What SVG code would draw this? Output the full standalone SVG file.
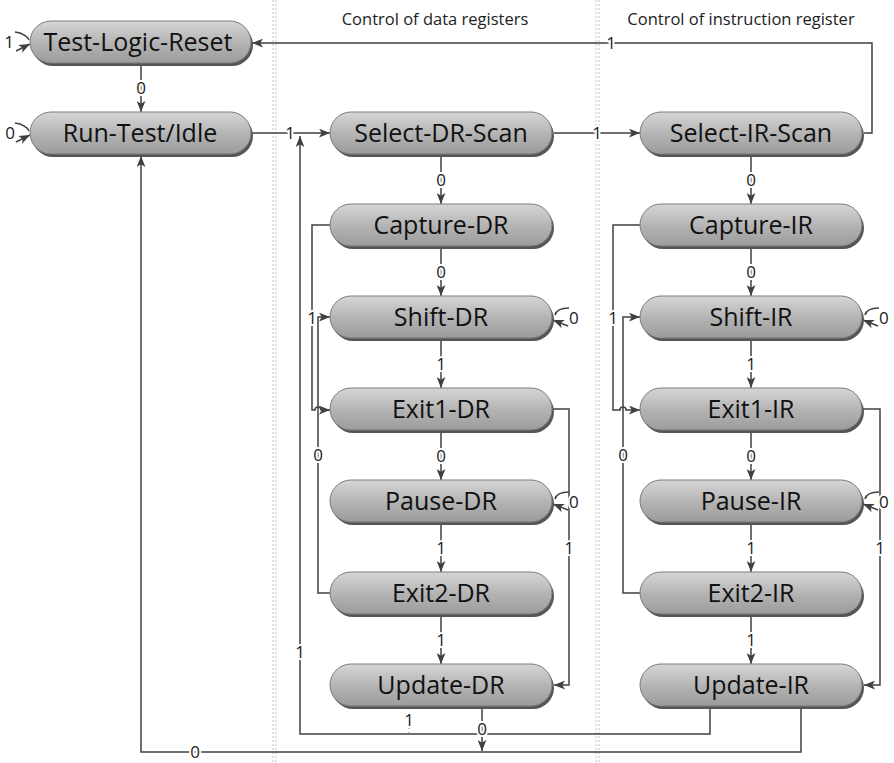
<svg xmlns="http://www.w3.org/2000/svg" width="894" height="763" viewBox="0 0 894 763">
  <style>
    .sep { stroke: #c4c4c4; stroke-width: 1; stroke-dasharray: 2 2; fill: none; }
    .hdr { font-family: "Open Sans", "Noto Sans", sans-serif; font-size: 16.5px; fill: #222; text-anchor: middle; }
    .edge { stroke: #404040; stroke-width: 1.5; fill: none; }
    .arr { marker-end: url(#ah); }
    .faint { stroke: #9a9a9a; stroke-width: 1.2; stroke-dasharray: 1 3; fill: none; }
    .lbl { font-family: "Open Sans", "Noto Sans", sans-serif; font-size: 17px; fill: #222; text-anchor: middle; stroke: #fff; stroke-width: 4; paint-order: stroke; stroke-linejoin: round; }
    .lblL { text-anchor: start; }
    .shadow { fill: #555; }
    .pill { fill: url(#g); stroke: #7c7c7c; stroke-width: 1; }
    .name { font-family: "Open Sans", "Noto Sans", sans-serif; font-size: 25px; fill: #111; text-anchor: middle; }
  </style>
  <defs>
    <linearGradient id="g" x1="0" y1="0" x2="0" y2="1">
      <stop offset="0" stop-color="#d6d6d6"/>
      <stop offset="0.55" stop-color="#b2b2b2"/>
      <stop offset="1" stop-color="#9c9c9c"/>
    </linearGradient>
    <marker id="ah" viewBox="0 0 10 8" refX="10" refY="4" markerWidth="11" markerHeight="9" markerUnits="userSpaceOnUse" orient="auto">
      <path d="M0,0 L10,4 L0,8 L2.5,4 z" fill="#404040"/>
    </marker>
  </defs>

  <rect width="894" height="763" fill="#fff"/>

  <!-- column separators -->
  <g id="separators">
    <line class="sep" x1="273" y1="0" x2="273" y2="763"/>
    <line class="sep" x1="276" y1="0" x2="276" y2="763"/>
    <line class="sep" x1="596" y1="0" x2="596" y2="763"/>
    <line class="sep" x1="599" y1="0" x2="599" y2="763"/>
  </g>

  <g id="headers">
    <text class="hdr" x="435" y="25">Control of data registers</text>
    <text class="hdr" x="741" y="25">Control of instruction register</text>
  </g>

  <!-- transitions -->
  <g id="connectors">
    <!-- self loops, left side -->
    <path class="edge" d="M15,32 C22,33 27,36 29,40"/>
    <path class="edge arr" d="M16,51 L30,44"/>
    <path class="edge" d="M15,123 C22,124 27,127 29,131"/>
    <path class="edge arr" d="M16,142 L30,135"/>

    <!-- Test-Logic-Reset -> Run-Test/Idle -->
    <path class="edge arr" d="M141,64 V112"/>
    <!-- Run-Test/Idle -> Select-DR-Scan -->
    <path class="edge arr" d="M252,133 H330"/>
    <!-- Select-DR-Scan -> Select-IR-Scan -->
    <path class="edge arr" d="M554,133 H640"/>
    <!-- Select-IR-Scan -> Test-Logic-Reset -->
    <path class="edge arr" d="M864,133 H872 V43 H252"/>

    <!-- DR column verticals -->
    <path class="edge arr" d="M441,155 V204"/>
    <path class="edge arr" d="M441,247 V296"/>
    <path class="edge arr" d="M441,339 V388"/>
    <path class="edge arr" d="M441,431 V480"/>
    <path class="edge arr" d="M441,523 V572"/>
    <path class="edge arr" d="M441,615 V664"/>

    <!-- IR column verticals -->
    <path class="edge arr" d="M751,155 V204"/>
    <path class="edge arr" d="M751,247 V296"/>
    <path class="edge arr" d="M751,339 V388"/>
    <path class="edge arr" d="M751,431 V480"/>
    <path class="edge arr" d="M751,523 V572"/>
    <path class="edge arr" d="M751,615 V664"/>

    <!-- DR side paths -->
    <path class="edge arr" d="M330,225 H312 V410 H315 A3,3 0 0 1 321,410 H330"/>
    <path class="edge arr" d="M330,593 H318 V317 H330"/>
    <path class="edge arr" d="M553,409 H569 V685 H554"/>
    <path class="edge" d="M569,308 C561,308 556,311 555,315"/>
    <path class="edge arr" d="M568,326 L553,320"/>
    <path class="edge" d="M569,492 C561,492 556,495 555,499"/>
    <path class="edge arr" d="M568,510 L553,504"/>

    <!-- IR side paths -->
    <path class="edge arr" d="M640,225 H613 V410 H620 A3,3 0 0 1 626,410 H640"/>
    <path class="edge arr" d="M640,593 H623 V317 H640"/>
    <path class="edge arr" d="M863,409 H880 V685 H864"/>
    <path class="edge" d="M879,308 C871,308 866,311 865,315"/>
    <path class="edge arr" d="M878,326 L863,320"/>
    <path class="edge" d="M879,492 C871,492 866,495 865,499"/>
    <path class="edge arr" d="M878,510 L863,504"/>

    <!-- Update states back to Select-DR-Scan -->
    <path class="edge arr" d="M710,707 V734 H300 V136"/>
    <path class="faint" d="M409,708 V733"/>
    <!-- Update states back to Run-Test/Idle -->
    <path class="edge arr" d="M801,707 V752 H141 V156"/>
    <path class="edge arr" d="M482,707 V751"/>
  </g>

  <!-- states -->
  <g id="test-logic-reset">
    <rect class="shadow" x="32" y="24" width="221" height="42" rx="21"/>
    <rect class="pill" x="30" y="21" width="221" height="42" rx="21"/>
    <text class="name" x="138" y="51">Test-Logic-Reset</text>
  </g>
  <g id="run-test-idle">
    <rect class="shadow" x="32" y="115" width="221" height="42" rx="21"/>
    <rect class="pill" x="30" y="112" width="221" height="42" rx="21"/>
    <text class="name" x="140" y="142">Run-Test/Idle</text>
  </g>

  <g id="select-dr-scan">
    <rect class="shadow" x="332" y="115" width="222" height="42" rx="21"/>
    <rect class="pill" x="330" y="112" width="222" height="42" rx="21"/>
    <text class="name" x="441" y="142">Select-DR-Scan</text>
  </g>
  <g id="capture-dr">
    <rect class="shadow" x="332" y="207" width="222" height="42" rx="21"/>
    <rect class="pill" x="330" y="204" width="222" height="42" rx="21"/>
    <text class="name" x="441" y="234">Capture-DR</text>
  </g>
  <g id="shift-dr">
    <rect class="shadow" x="332" y="299" width="222" height="42" rx="21"/>
    <rect class="pill" x="330" y="296" width="222" height="42" rx="21"/>
    <text class="name" x="441" y="326">Shift-DR</text>
  </g>
  <g id="exit1-dr">
    <rect class="shadow" x="332" y="391" width="222" height="42" rx="21"/>
    <rect class="pill" x="330" y="388" width="222" height="42" rx="21"/>
    <text class="name" x="441" y="418">Exit1-DR</text>
  </g>
  <g id="pause-dr">
    <rect class="shadow" x="332" y="483" width="222" height="42" rx="21"/>
    <rect class="pill" x="330" y="480" width="222" height="42" rx="21"/>
    <text class="name" x="441" y="510">Pause-DR</text>
  </g>
  <g id="exit2-dr">
    <rect class="shadow" x="332" y="575" width="222" height="42" rx="21"/>
    <rect class="pill" x="330" y="572" width="222" height="42" rx="21"/>
    <text class="name" x="441" y="602">Exit2-DR</text>
  </g>
  <g id="update-dr">
    <rect class="shadow" x="332" y="667" width="222" height="42" rx="21"/>
    <rect class="pill" x="330" y="664" width="222" height="42" rx="21"/>
    <text class="name" x="441" y="694">Update-DR</text>
  </g>

  <g id="select-ir-scan">
    <rect class="shadow" x="642" y="115" width="222" height="42" rx="21"/>
    <rect class="pill" x="640" y="112" width="222" height="42" rx="21"/>
    <text class="name" x="751" y="142">Select-IR-Scan</text>
  </g>
  <g id="capture-ir">
    <rect class="shadow" x="642" y="207" width="222" height="42" rx="21"/>
    <rect class="pill" x="640" y="204" width="222" height="42" rx="21"/>
    <text class="name" x="751" y="234">Capture-IR</text>
  </g>
  <g id="shift-ir">
    <rect class="shadow" x="642" y="299" width="222" height="42" rx="21"/>
    <rect class="pill" x="640" y="296" width="222" height="42" rx="21"/>
    <text class="name" x="751" y="326">Shift-IR</text>
  </g>
  <g id="exit1-ir">
    <rect class="shadow" x="642" y="391" width="222" height="42" rx="21"/>
    <rect class="pill" x="640" y="388" width="222" height="42" rx="21"/>
    <text class="name" x="751" y="418">Exit1-IR</text>
  </g>
  <g id="pause-ir">
    <rect class="shadow" x="642" y="483" width="222" height="42" rx="21"/>
    <rect class="pill" x="640" y="480" width="222" height="42" rx="21"/>
    <text class="name" x="751" y="510">Pause-IR</text>
  </g>
  <g id="exit2-ir">
    <rect class="shadow" x="642" y="575" width="222" height="42" rx="21"/>
    <rect class="pill" x="640" y="572" width="222" height="42" rx="21"/>
    <text class="name" x="751" y="602">Exit2-IR</text>
  </g>
  <g id="update-ir">
    <rect class="shadow" x="642" y="667" width="222" height="42" rx="21"/>
    <rect class="pill" x="640" y="664" width="222" height="42" rx="21"/>
    <text class="name" x="751" y="694">Update-IR</text>
  </g>

  <!-- transition conditions -->
  <g id="labels">
    <text class="lbl" x="9" y="48">1</text>
    <text class="lbl" x="10" y="139">0</text>
    <text class="lbl" x="141" y="94">0</text>
    <text class="lbl" x="290" y="139">1</text>
    <text class="lbl" x="597" y="139">1</text>
    <text class="lbl" x="611" y="49">1</text>

    <text class="lbl" x="441" y="186">0</text>
    <text class="lbl" x="441" y="278">0</text>
    <text class="lbl" x="441" y="370">1</text>
    <text class="lbl" x="441" y="462">0</text>
    <text class="lbl" x="441" y="554">1</text>
    <text class="lbl" x="441" y="646">1</text>

    <text class="lbl" x="751" y="186">0</text>
    <text class="lbl" x="751" y="278">0</text>
    <text class="lbl" x="751" y="370">1</text>
    <text class="lbl" x="751" y="462">0</text>
    <text class="lbl" x="751" y="554">1</text>
    <text class="lbl" x="751" y="646">1</text>

    <text class="lbl" x="312" y="324">1</text>
    <text class="lbl" x="318" y="461">0</text>
    <text class="lbl" x="569" y="554">1</text>
    <text class="lbl lblL" x="569" y="324">0</text>
    <text class="lbl lblL" x="569" y="508">0</text>

    <text class="lbl" x="613" y="324">1</text>
    <text class="lbl" x="623" y="461">0</text>
    <text class="lbl" x="880" y="554">1</text>
    <text class="lbl lblL" x="879" y="324">0</text>
    <text class="lbl lblL" x="879" y="508">0</text>

    <text class="lbl" x="300" y="658">1</text>
    <text class="lbl" x="409" y="726">1</text>
    <text class="lbl" x="482" y="735">0</text>
    <text class="lbl" x="195" y="758">0</text>
  </g>
</svg>
